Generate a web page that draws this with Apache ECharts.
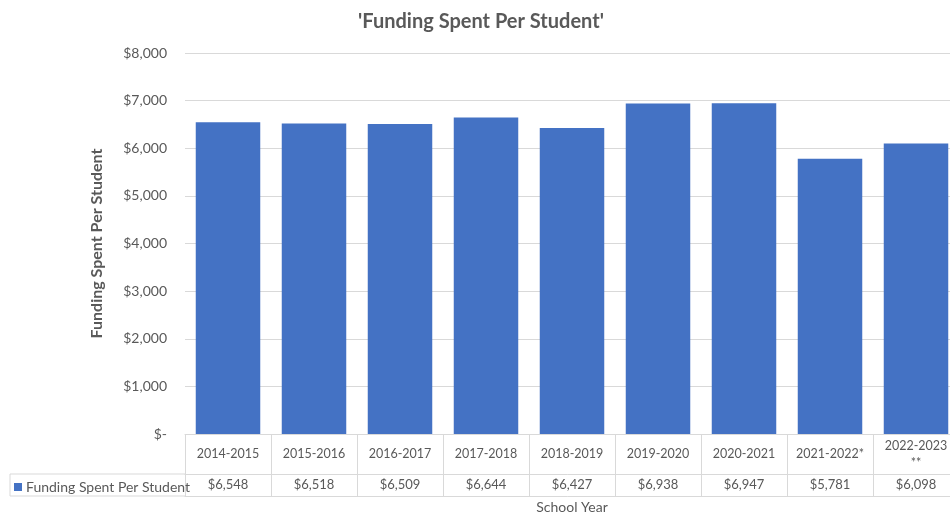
<!DOCTYPE html>
<html><head><meta charset="utf-8">
<script src="https://cdn.jsdelivr.net/npm/echarts@6/dist/echarts.min.js"></script>
<style>html,body{margin:0;padding:0;background:#fff}#c{width:950px;height:516px}</style>
</head><body><div id="c"></div>
<script>
const categories = ['2014-2015','2015-2016','2016-2017','2017-2018','2018-2019','2019-2020','2020-2021','2021-2022*','2022-2023 **'];
const values = [6548, 6518, 6509, 6644, 6427, 6938, 6947, 5781, 6098];
const seriesName = 'Funding Spent Per Student';
const yTicks = [0, 1000, 2000, 3000, 4000, 5000, 6000, 7000, 8000];

const font = 'Lato, "Open Sans", sans-serif';
const txt = '#595959';
const line = '#d9d9d9';
const chart = echarts.init(document.getElementById('c'), null, {renderer: 'canvas'});
const fmt = v => v === 0 ? '$-' : '$' + v.toLocaleString('en-US');
chart.setOption({
  animation: false,
  textStyle: {fontFamily: font},
  title: {text: "'Funding Spent Per Student'", left: 476, textAlign: 'center', top: 7,
    textStyle: {fontFamily: font, fontSize: 20, fontWeight: 'bold', color: txt}},
  legend: {data: [{name: seriesName, icon: 'rect'}], left: 9, top: 475, itemWidth: 8, itemHeight: 8, itemGap: 3,
    textStyle: {fontFamily: font, fontSize: 14, color: txt, padding: [0,0,0,-1]}, selectedMode: false},
  grid: {left: 185, top: 53, width: 774, bottom: 82, outerBoundsMode: 'none', containLabel: false},
  xAxis: [
    {type: 'category', data: categories, position: 'bottom',
     axisLine: {show: true, lineStyle: {color: line}},
     axisTick: {show: true, length: 62, lineStyle: {color: line}},
     axisLabel: {color: txt, fontSize: 12.5, fontFamily: font, margin: 20, verticalAlign: 'middle', lineHeight: 17,
       interval: 0, formatter: v => v.replace(' ', '\n')},
     name: 'School Year', nameLocation: 'middle', nameGap: 66,
     nameTextStyle: {color: txt, fontSize: 14, fontFamily: font}},
    {type: 'category', data: categories, position: 'bottom', offset: 40,
     axisLine: {show: true, lineStyle: {color: line}}, axisTick: {show: false},
     axisLabel: {color: txt, fontSize: 13, fontFamily: font, margin: 11, verticalAlign: 'middle', interval: 0,
       formatter: (v, i) => fmt(values[i])}},
    {type: 'category', data: categories, position: 'bottom', offset: 62,
     axisLine: {show: true, lineStyle: {color: line}}, axisTick: {show: false}, axisLabel: {show: false}}
  ],
  yAxis: {type: 'value', min: yTicks[0], max: yTicks[yTicks.length-1], interval: 1000,
    axisLine: {show: false}, axisTick: {show: false},
    splitLine: {lineStyle: {color: line}},
    axisLabel: {color: txt, fontSize: 14, fontFamily: font, margin: 18, formatter: fmt},
    name: seriesName, nameLocation: 'middle', nameGap: 80, nameRotate: 90,
    nameTextStyle: {color: txt, fontSize: 16, fontWeight: 'bold', fontFamily: font}},
  series: [{name: seriesName, type: 'bar', data: values, barCategoryGap: '25%',
    itemStyle: {color: '#4472C4'}}],
  graphic: [
    {type: 'line', shape: {x1: 10, y1: 474, x2: 185, y2: 474}, style: {stroke: line, lineWidth: 1}},
    {type: 'line', shape: {x1: 10, y1: 496, x2: 185, y2: 496}, style: {stroke: line, lineWidth: 1}},
    {type: 'line', shape: {x1: 10, y1: 474, x2: 10, y2: 496}, style: {stroke: line, lineWidth: 1}}
  ]
});
</script></body></html>
